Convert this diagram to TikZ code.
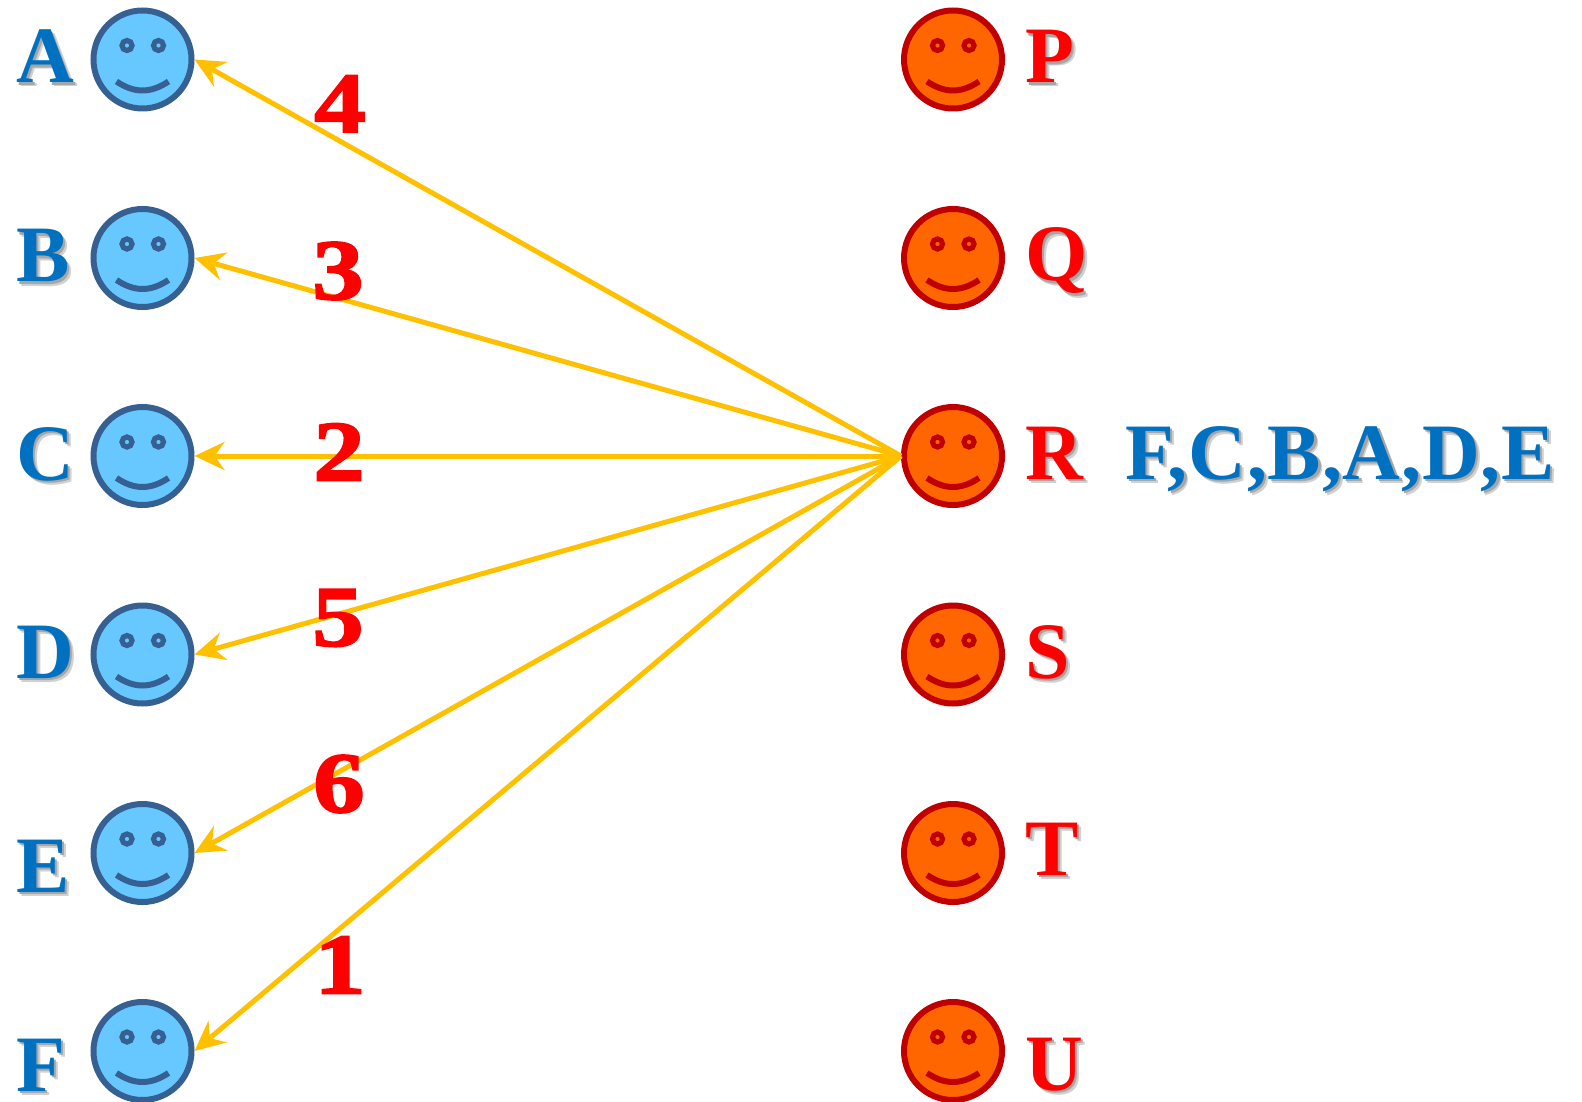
\documentclass[tikz,border=0pt]{standalone}
\usepackage{fontspec}
\setmainfont{Liberation Serif}
\newfontfamily\numfont[FakeBold=2.2,FakeStretch=1.2]{Liberation Serif}
\usetikzlibrary{arrows.meta}
\definecolor{facea}{HTML}{66C8FF}
\definecolor{linea}{HTML}{376092}
\definecolor{faceb}{HTML}{FF6600}
\definecolor{lineb}{HTML}{C00000}
\definecolor{textblue}{HTML}{0070C0}
\definecolor{textred}{HTML}{FF0000}
\definecolor{arrowc}{HTML}{FFC000}
\newcommand\shtext[2]{\leavevmode
  \rlap{\raisebox{-2pt}{\hspace{2pt}\textcolor{black!18}{#2}}}%
  \rlap{\raisebox{-1.2pt}{\hspace{1.2pt}\textcolor{black!35}{#2}}}%
  \textcolor{#1}{#2}}
\tikzset{
  face/.style={circle,minimum size=49pt,inner sep=0pt,line width=3pt},
  eye/.style={line width=2.6pt},
  mouth/.style={line width=3pt},
  lab/.style={anchor=base west,inner sep=0pt,font=\fontsize{40}{40}\selectfont\bfseries},
  conn/.style={arrowc,line width=2.5pt,-{Stealth[length=15pt,width=14pt,inset=5pt]}},
  num/.style={inner sep=0pt,text=textred,font=\fontsize{43}{43}\selectfont\numfont\bfseries}
}
\newcommand\smiley[5]{%
  \node[face,fill=#4,draw=#5] (#1) at (#2,#3) {};
  \begin{scope}[shift={(#2,#3)}]
    \draw[eye,draw=#5,fill=#4] (-15.5,-14) circle (5);
    \draw[eye,draw=#5,fill=#4] (16,-14) circle (5);
    \draw[mouth,draw=#5] (-26,22) .. controls (-8,34) and (8,34) .. (26,22);
  \end{scope}}
\begin{document}
\begin{tikzpicture}[x=0.5pt,y=-0.5pt]
\useasboundingbox (0,0) rectangle (1582,1101);
\smiley{a}{142.5}{59.5}{facea}{linea}
\smiley{b}{142.5}{258}{facea}{linea}
\smiley{c}{142.5}{456}{facea}{linea}
\smiley{d}{142.5}{654.5}{facea}{linea}
\smiley{e}{142.5}{853}{facea}{linea}
\smiley{f}{142.5}{1051}{facea}{linea}
\smiley{p}{953}{59.5}{faceb}{lineb}
\smiley{q}{953}{258}{faceb}{lineb}
\smiley{r}{953}{456}{faceb}{lineb}
\smiley{s}{953}{654.5}{faceb}{lineb}
\smiley{t}{953}{853}{faceb}{lineb}
\smiley{u}{953}{1051}{faceb}{lineb}
\node[lab] (la) at (16,83) {\shtext{textblue}{A}};
\node[lab] (lb) at (16,282) {\shtext{textblue}{B}};
\node[lab] (lc) at (16,480) {\shtext{textblue}{C}};
\node[lab] (ld) at (16,678) {\shtext{textblue}{D}};
\node[lab] (le) at (16,892) {\shtext{textblue}{E}};
\node[lab] (lf) at (16,1091) {\shtext{textblue}{F}};
\node[lab] (lp) at (1025,83) {\shtext{textred}{P}};
\node[lab] (lq) at (1025,281) {\shtext{textred}{Q}};
\node[lab] (lr) at (1025,479) {\shtext{textred}{R}};
\node[lab] (ls) at (1025,678) {\shtext{textred}{S}};
\node[lab] (lt) at (1025,875) {\shtext{textred}{T}};
\node[lab] (lu) at (1025,1090) {\shtext{textred}{U}};
\node[lab] (order) at (1125,479) {\addfontfeature{LetterSpace=1}\shtext{textblue}{F,C,B,A,D,E}};
\foreach \n in {a,b,c,d,e,f} \draw[conn] (r.west) -- (\n.east);
\node[num] (n4) at (340,104) {4};
\node[num] (n3) at (338,271) {3};
\node[num] (n2) at (339,452) {2};
\node[num] (n5) at (338,618) {5};
\node[num] (n6) at (339,784) {6};
\node[num] (n1) at (340,965) {1};
\end{tikzpicture}
\end{document}
